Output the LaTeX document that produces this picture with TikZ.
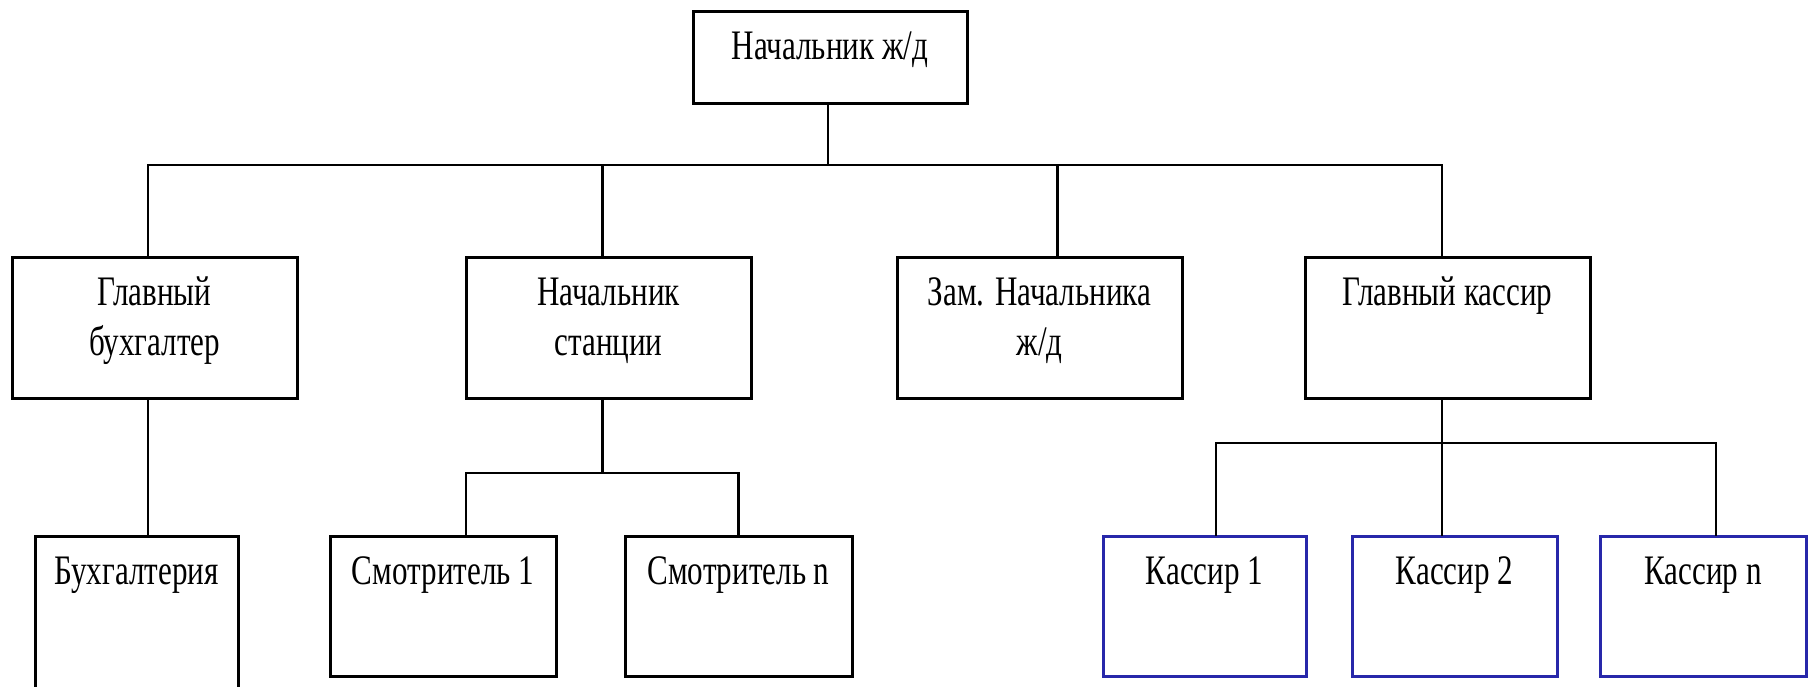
\documentclass[tikz,border=0pt]{standalone}
\usepackage{fontspec}
\setmainfont{Liberation Serif}[FakeStretch=0.74]
\usepackage{xcolor}
\usetikzlibrary{positioning}
\definecolor{kassablue}{RGB}{40,40,170}
\tikzstyle{post} = [rectangle, draw=black, line width=3pt, inner sep=0pt, outer sep=0pt, align=center, font=\fontsize{42}{50}\selectfont, text height=48pt]
\tikzstyle{level2} = [post, minimum width=285pt, text depth=93pt]
\tikzstyle{twoline} = [text height=98pt, text depth=43pt]
\tikzstyle{worker} = [post, minimum width=203pt, text depth=92pt]
\tikzstyle{kassa} = [worker, draw=kassablue]
\tikzstyle{line} = [line width=2.5pt]

\begin{document}
\begin{tikzpicture}[x=1pt, y=1pt]
		\useasboundingbox (0,0) rectangle (1812,-687);
		\node (boss)[post, minimum width=274pt, text depth=44pt, anchor=north] at (830,-12) {Начальник ж/д};
		\node (chiefacc)[level2, twoline, anchor=north west] at (12,-257) {Главный\\бухгалтер};
		\node (stationhead)[level2, twoline, right=169pt of chiefacc] {Начальник\\станции};
		\node (deputy)[level2, twoline, right=146pt of stationhead] {Зам. Начальника\\ж/д};
		\node (chiefcash)[level2, right=123pt of deputy] {Главный кассир};
		\node (accounts)[worker, text depth=150pt, anchor=north west] at (35,-536) {Бухгалтерия};
		\node (keeper1)[worker, minimum width=226pt, anchor=north west] at (330,-536) {Смотритель 1};
		\node (keepern)[worker, minimum width=227pt, right=69pt of keeper1] {Смотритель n};
		\node (cashier1)[kassa, anchor=north west] at (1103,-536) {Кассир 1};
		\node (cashier2)[kassa, minimum width=205pt, right=46pt of cashier1] {Кассир 2};
		\node (cashiern)[kassa, minimum width=206pt, right=43pt of cashier2] {Кассир n};
		% top level
		\draw [line] ([xshift=-2pt]boss.south) -- ++(0,-61);
		\draw [line] ([xshift=-6.5pt]chiefacc.north) -- ++(0,92) -| ([xshift=-5.5pt]chiefcash.north);
		\draw [line] ([xshift=-6pt]stationhead.north) -- ++(0,92);
		\draw [line] ([xshift=18pt]deputy.north) -- ++(0,92);
		% lower level
		\draw [line] ([xshift=-6.5pt]chiefacc.south) -- ([xshift=11.5pt]accounts.north);
		\draw [line] ([xshift=-6pt]stationhead.south) -- ++(0,-75) coordinate (keeperbus);
		\draw [line] ([xshift=23pt]keeper1.north) |- (keeperbus) -| (keepern.north);
		\draw [line] ([xshift=-5.5pt]chiefcash.south) -- ([xshift=-12.5pt]cashier2.north);
		\draw [line] ([xshift=11.5pt]cashier1.north) -- ++(0,93) -| ([xshift=13pt]cashiern.north);
	\end{tikzpicture}
\end{document}
